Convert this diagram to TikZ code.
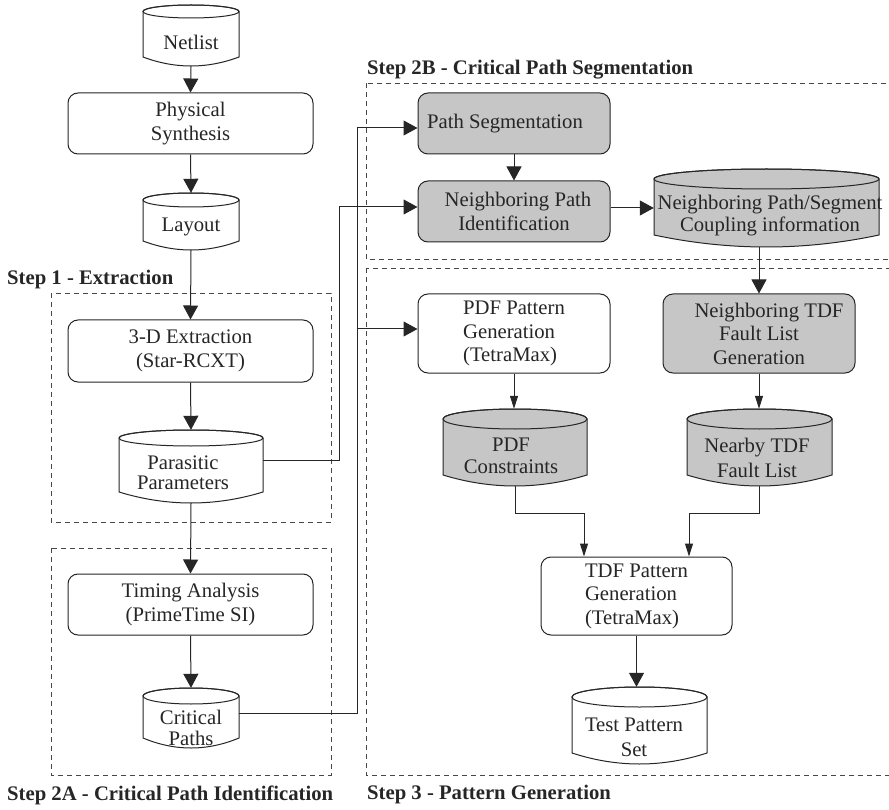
\documentclass[tikz,border=0pt]{standalone}
\usepackage{fontspec}
\setmainfont{Liberation Serif}
\usetikzlibrary{arrows.meta,calc}

\definecolor{ink}{HTML}{262626}
\definecolor{shade}{HTML}{C6C6C6}

\tikzset{
  txt/.style={font=\fontsize{20.7}{23.5}\selectfont, text=ink, align=center, inner sep=0pt},
  proc/.style={txt, draw=ink, line width=1pt, rounded corners=10pt, fill=white},
  procgray/.style={proc, fill=shade},
  stepframe/.style={draw=ink!85, line width=0.9pt, dash pattern=on 5pt off 4pt},
  steplabel/.style={font=\fontsize{20.7}{23.5}\selectfont\bfseries, text=ink, anchor=west, inner sep=0pt},
  conn/.style={draw=ink, line width=1pt},
  bigtip/.style={conn, -{Triangle[length=14pt,width=15pt]}},
  smalltip/.style={conn, -{Triangle[length=13pt,width=8pt]}},
  drumline/.style={draw=ink, line width=1pt}
}

% Data store drawn as a drum: name, centre x, half width, top y,
% half height of the lid, y where the sides end, lowest y of the base, fill
\newcommand\drum[8]{%
  \pgfmathsetmacro\dxl{#2-#3}%
  \pgfmathsetmacro\dxr{#2+#3}%
  \pgfmathsetmacro\dym{#4+#5}%
  \pgfmathsetmacro\dyc{#6+(#7-#6)*4/3}%
  \pgfmathsetmacro\dk{#4+#5-0.5523*#5}%
  \pgfmathsetmacro\dkl{#2-0.5523*#3}%
  \pgfmathsetmacro\dkr{#2+0.5523*#3}%
  \pgfmathsetmacro\dbl{#2-#3/3}%
  \pgfmathsetmacro\dbr{#2+#3/3}%
  \pgfmathsetmacro\dcy{(#4+#7)/2}%
  \pgfmathsetmacro\dh{#7-#4}%
  \pgfmathsetmacro\dw{2*#3}%
  \path[drumline, fill=#8] (\dxl,\dym) -- (\dxl,#6)
    .. controls (\dbl,\dyc) and (\dbr,\dyc) .. (\dxr,#6) -- (\dxr,\dym)
    .. controls (\dxr,\dk) and (\dkr,#4) .. (#2,#4)
    .. controls (\dkl,#4) and (\dxl,\dk) .. (\dxl,\dym) -- cycle;
  \draw[drumline] (#2,\dym) ellipse[x radius=#3, y radius=#5];
  \node[inner sep=0pt, minimum width=\dw pt, minimum height=\dh pt] (#1) at (#2,\dcy) {};
}

\begin{document}
\begin{tikzpicture}[x=1pt, y=-1pt]
\useasboundingbox (0,0) rectangle (889,810);

% step frames
\draw[stepframe] (51,293) rectangle (331,522);
\draw[stepframe] (51,548) rectangle (331,775);
\draw[stepframe] (366,83) rectangle (900,259);
\draw[stepframe] (366,268) rectangle (900,775);

\node[steplabel] (lab1)  at (7,280) {Step 1 - Extraction};
\node[steplabel] (lab2a) at (7,795) {Step 2A - Critical Path Identification};
\node[steplabel] (lab2b) at (367,70) {Step 2B - Critical Path Segmentation};
\node[steplabel] (lab3)  at (367,795) {Step 3 - Pattern Generation};

% left column
\drum{netlist}{191}{48}{5}{6.5}{57}{66}{white}
\node[txt] (netlist-t) at (191,42.5) {Netlist};

\node[proc, minimum width=245pt, minimum height=61pt] (phys) at (190.5,123.5) {Physical\\Synthesis};

\drum{layout}{191}{48}{193}{7}{241}{250}{white}
\node[txt] (layout-t) at (191,227) {Layout};

\node[proc, minimum width=245pt, minimum height=62pt] (ext3d) at (190.5,351) {3-D Extraction\\(Star-RCXT)};

\drum{para}{191}{72}{430}{8}{492}{503}{white}
\node[txt, font=\fontsize{20.7}{19.5}\selectfont] (para-t) at (183,472.5) {Parasitic\\Parameters};

\node[proc, minimum width=245pt, minimum height=61pt] (timing) at (190.5,604.5) {Timing Analysis\\(PrimeTime SI)};

\drum{crit}{191}{48}{688}{8}{738}{748}{white}
\node[txt, font=\fontsize{20.7}{21}\selectfont] (crit-t) at (191,727.5) {Critical\\Paths};

% step 2B
\node[procgray, minimum width=192pt, minimum height=61pt] (pathseg) at (514,123.5) {Path Segmentation\hspace*{18pt}};
\node[procgray, minimum width=192pt, minimum height=61pt] (npi) at (514,211.5) {\hspace*{8pt}Neighboring Path\\Identification};

\drum{coupling}{766.5}{112.5}{169}{10}{235}{247}{shade}
\node[txt, font=\fontsize{20.7}{22}\selectfont] (coupling-t) at (770,216) {Neighboring Path/Segment\\Coupling information};

% step 3
\node[proc, minimum width=192pt, minimum height=79pt, align=left] (pdfgen) at (514,333.5) {PDF Pattern\\Generation\\(TetraMax)};
\node[procgray, minimum width=192pt, minimum height=79pt] (ntdf) at (759,333.5) {\hspace*{20pt}Neighboring TDF\\Fault List\\Generation};

\drum{pdfc}{515}{72}{409}{10}{475}{486}{shade}
\node[txt, font=\fontsize{20.7}{22}\selectfont] (pdfc-t) at (511,456) {PDF\\Constraints};

\drum{nearby}{759.5}{72.5}{409}{10}{475}{486}{shade}
\node[txt, font=\fontsize{20.7}{25}\selectfont] (nearby-t) at (757,457.5) {Nearby TDF\\Fault List};

\node[proc, minimum width=191pt, minimum height=78pt, align=left] (tdfgen) at (636.5,596) {TDF Pattern\\Generation\\(TetraMax)};

\drum{testset}{639.5}{67.5}{687}{10}{753}{764}{white}
\node[txt, font=\fontsize{20.7}{25}\selectfont] (testset-t) at (634,737.5) {Test Pattern\\Set};

% connectors
\draw[bigtip] (netlist.south) -- (phys.north);
\draw[bigtip] (phys.south) -- (layout.north);
\draw[bigtip] (layout.south) -- (ext3d.north);
\draw[bigtip] (ext3d.south) -- (para.north);
\draw[bigtip] (para.south) -- (timing.north);
\draw[bigtip] (timing.south) -- (crit.north);

\coordinate (busA) at (339,0);
\coordinate (busB) at (357,0);
\coordinate (npiin) at ([yshift=4.5pt]npi.west);
\coordinate (segin) at ([yshift=-4.5pt]pathseg.west);
\coordinate (pdfin) at ([yshift=4.5pt]pdfgen.west);

\draw[bigtip] ([yshift=6.5pt]para.east) -| (busA |- npiin) -- (npiin);
\draw[bigtip] ([yshift=5pt]crit.east) -| (busB |- segin) -- (segin);
\draw[bigtip] (busB |- pdfin) -- (pdfin);

\draw[bigtip] (pathseg.south) -- (npi.north);
\draw[bigtip] (npi.east |- coupling.west) -- (coupling.west);
\draw[bigtip] (coupling.south -| ntdf.north) -- (ntdf.north);

\draw[smalltip] (pdfgen.south) -- (pdfc.north -| pdfgen.south);
\draw[smalltip] (ntdf.south) -- (nearby.north -| ntdf.south);
\draw[smalltip] (pdfc.south) -- ++(0,27) -| ([xshift=-52.5pt]tdfgen.north);
\draw[smalltip] (nearby.south) -- ++(0,27) -| ([xshift=52.5pt]tdfgen.north);
\draw[bigtip] (tdfgen.south) -- (testset.north -| tdfgen.south);

\end{tikzpicture}
\end{document}
